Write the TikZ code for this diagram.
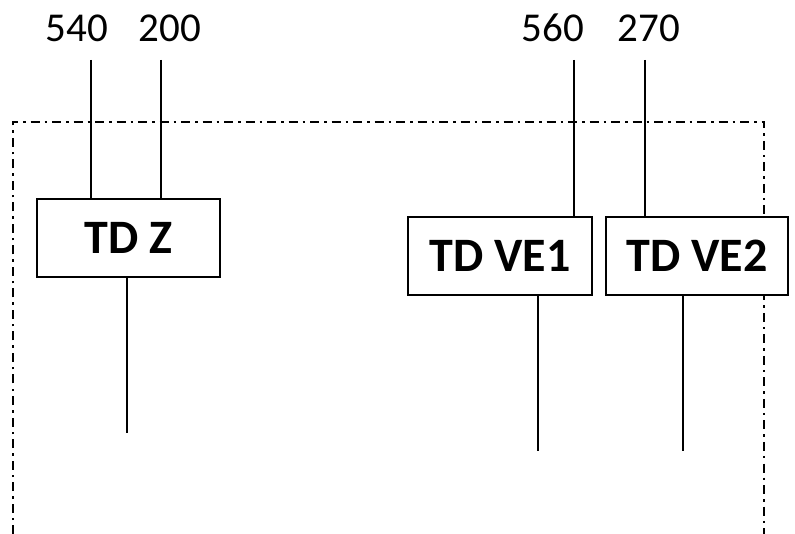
\documentclass[tikz,border=0pt]{standalone}
\usepackage{fontspec}
\setmainfont{Carlito}
\begin{document}
\begin{tikzpicture}[x=1pt,y=-1pt,
  tdbox/.style={draw,fill=white,line width=1.8pt,inner sep=0pt,minimum height=78pt,font=\fontsize{48}{50}\selectfont\bfseries},
  numlabel/.style={anchor=base,inner sep=0pt,font=\fontsize{41}{44}\selectfont},
  wire/.style={line width=1.6pt},
  frame/.style={line width=2pt,dash pattern=on 9pt off 5pt on 2.5pt off 5pt}]
\useasboundingbox (0,0) rectangle (795,534);
% frame
\draw[frame] (12.5,534) -- (12.5,122) -- (764,122) -- (764,534);
% boxes
\node[tdbox,minimum width=183pt] (tdz) at (128.5,238) {\raisebox{-2pt}{TD Z}};
\node[tdbox,minimum width=184pt] (ve1) at (500,256) {\raisebox{-2pt}{TD VE1}};
\node[tdbox,minimum width=182pt] (ve2) at (697,256) {\raisebox{-2pt}{TD VE2}};
% labels
\node[numlabel] (l540) at (77,42) {540};
\node[numlabel] (l200) at (170,42) {200};
\node[numlabel] (l560) at (553,42) {560};
\node[numlabel] (l270) at (649,42) {270};
% wire ends
\coordinate (a1) at (91,60);
\coordinate (a2) at (161,60);
\coordinate (a3) at (574,60);
\coordinate (a4) at (645,60);
\coordinate (b1) at (127,433);
\coordinate (b2) at (538,451);
\coordinate (b3) at (683,451);
% wires
\draw[wire] (a1) -- (a1 |- tdz.north);
\draw[wire] (a2) -- (a2 |- tdz.north);
\draw[wire] (a3) -- (a3 |- ve1.north);
\draw[wire] (a4) -- (a4 |- ve2.north);
\draw[wire] (b1 |- tdz.south) -- (b1);
\draw[wire] (b2 |- ve1.south) -- (b2);
\draw[wire] (b3 |- ve2.south) -- (b3);
\end{tikzpicture}
\end{document}
